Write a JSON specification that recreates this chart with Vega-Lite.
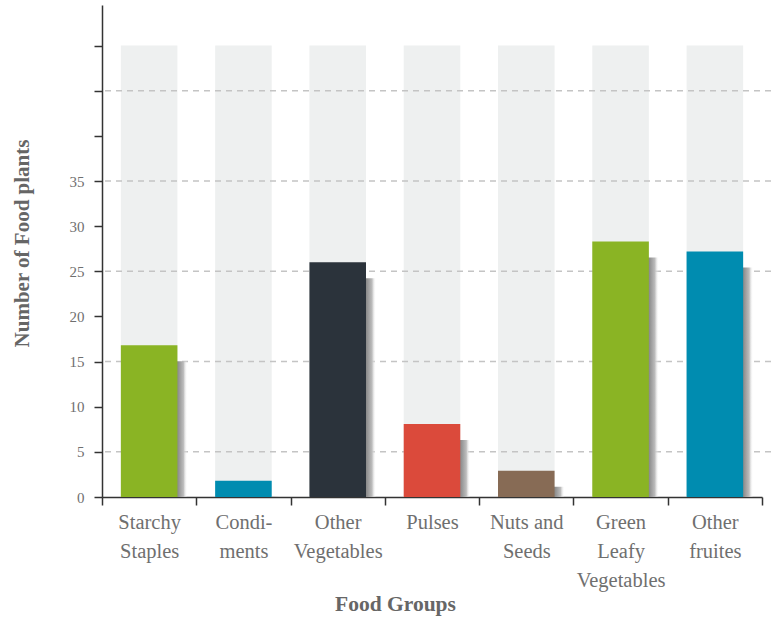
{
  "$schema": "https://vega.github.io/schema/vega-lite/v6.json",
  "autosize": "none",
  "width": 669,
  "height": 492,
  "padding": {"left": 102, "top": 5, "right": 0, "bottom": 124},
  "background": "white",
  "datasets": {
    "bars": [
      {"group": "Starchy|Staples", "value": 16.8},
      {"group": "Condi-|ments", "value": 1.8},
      {"group": "Other|Vegetables", "value": 26.0},
      {"group": "Pulses", "value": 8.1},
      {"group": "Nuts and|Seeds", "value": 2.9},
      {"group": "Green|Leafy|Vegetables", "value": 28.3},
      {"group": "Other|fruites", "value": 27.2}
    ],
    "grid": [{"g": 5}, {"g": 15}, {"g": 25}, {"g": 35}, {"g": 45}]
  },
  "config": {
    "view": {"stroke": null},
    "font": "Liberation Serif",
    "axis": {
      "labelFont": "Liberation Serif",
      "titleFont": "Liberation Serif",
      "domainColor": "#333333",
      "domainWidth": 1.5,
      "tickColor": "#333333",
      "tickWidth": 1.5,
      "tickSize": 8,
      "grid": false,
      "labelColor": "#6f6f6f",
      "titleColor": "#666666",
      "titleFontWeight": "bold"
    }
  },
  "layer": [
    {
      "data": {"name": "bars"},
      "mark": {"type": "bar", "width": {"band": 0.6}, "color": "#eef0f0"},
      "encoding": {
        "x": {
          "field": "group", "type": "nominal", "sort": null,
          "scale": {"range": [0, 660], "paddingInner": 0, "paddingOuter": 0},
          "axis": {
            "title": "Food Groups",
            "labelExpr": "split(datum.label, '|')",
            "labelAngle": 0,
            "labelFontSize": 20.5,
            "labelLineHeight": 29,
            "labelPadding": 7,
            "labelBaseline": "top",
            "tickBand": "extent",
            "titleFontSize": 21.5,
            "titleX": 293,
            "titleY": 107,
            "titleBaseline": "middle",
            "titleAlign": "center"
          }
        },
        "y": {
          "datum": 50, "type": "quantitative",
          "scale": {"domain": [0, 54.5], "nice": false, "zero": true},
          "axis": {
            "title": "Number of Food plants",
            "values": [0, 5, 10, 15, 20, 25, 30, 35, 40, 45, 50],
            "labelExpr": "datum.value <= 35 ? datum.label : ''",
            "labelFontSize": 15,
            "labelPadding": 10,
            "titleFontSize": 21,
            "titleX": -80,
            "titleY": 238,
            "titleAngle": 270,
            "titleAlign": "center",
            "titleBaseline": "middle"
          }
        }
      }
    },
    {
      "data": {"name": "grid"},
      "mark": {"type": "rule", "color": "#c4c4c4", "strokeDash": [6, 5], "strokeWidth": 1.5},
      "encoding": {
        "y": {"field": "g", "type": "quantitative", "title": "Number of Food plants"}
      }
    },
    {
      "data": {"name": "bars"},
      "mark": {
        "type": "bar", "width": {"band": 0.6}, "xOffset": 10, "yOffset": 16, "clip": true,
        "fill": {
          "gradient": "linear", "x1": 0, "x2": 1, "y1": 0, "y2": 0,
          "stops": [
            {"offset": 0, "color": "#888888"},
            {"offset": 0.83, "color": "#8c8c8c"},
            {"offset": 0.93, "color": "#bdbdbd"},
            {"offset": 1, "color": "rgba(255,255,255,0)"}
          ]
        }
      },
      "encoding": {
        "x": {"field": "group", "type": "nominal", "sort": null, "title": "Food Groups"},
        "y": {"field": "value", "type": "quantitative", "title": "Number of Food plants"}
      }
    },
    {
      "data": {"name": "bars"},
      "mark": {"type": "bar", "width": {"band": 0.6}},
      "encoding": {
        "x": {"field": "group", "type": "nominal", "sort": null, "title": "Food Groups"},
        "y": {"field": "value", "type": "quantitative", "title": "Number of Food plants"},
        "color": {
          "field": "group", "type": "nominal", "legend": null,
          "scale": {
            "domain": ["Starchy|Staples", "Condi-|ments", "Other|Vegetables", "Pulses", "Nuts and|Seeds", "Green|Leafy|Vegetables", "Other|fruites"],
            "range": ["#8ab424", "#008cb0", "#2b333b", "#db4a3b", "#876b55", "#8ab424", "#008cb0"]
          }
        }
      }
    }
  ]
}
